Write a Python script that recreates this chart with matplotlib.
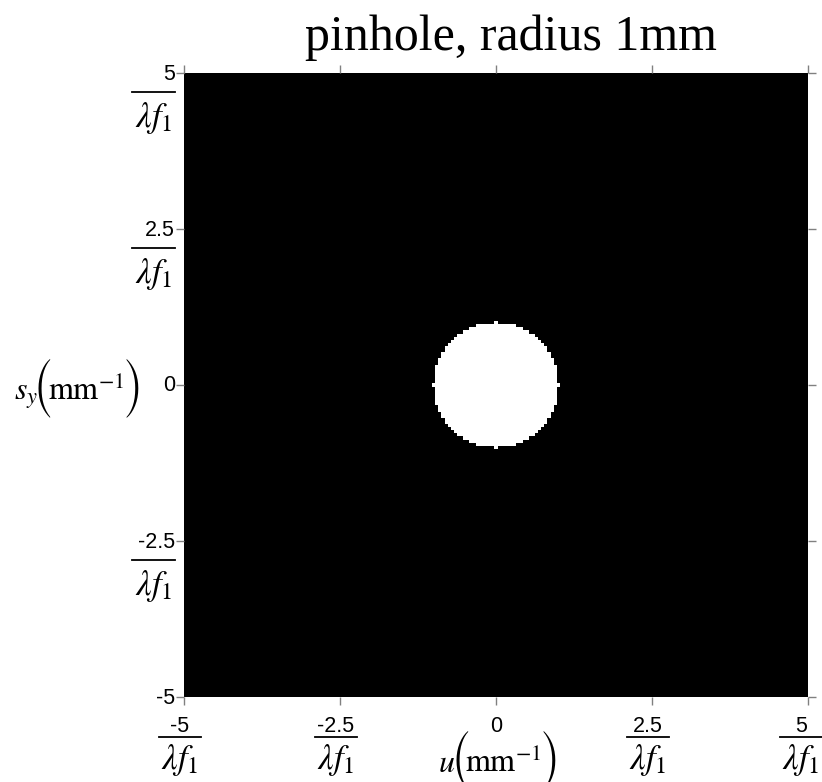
import numpy as np
import matplotlib
matplotlib.use('Agg')
import matplotlib.pyplot as plt
from matplotlib.lines import Line2D

plt.rcParams['mathtext.fontset'] = 'stix'
plt.rcParams['font.family'] = 'Liberation Serif'

# pinhole aperture, sampled on a square grid (mm^-1 units on both axes)
radius = 1.0
half_width = 5.0
step = 0.05
tick_vals = [-5, -2.5, 0, 2.5, 5]
tick_text = ['-5', '-2.5', '0', '2.5', '5']
title = 'pinhole, radius 1mm'

n = int(round(half_width / step))
idx = np.arange(-n, n + 1)
ii, jj = np.meshgrid(idx, idx)
r_cells = int(round(radius / step))
aperture = (ii**2 + jj**2 <= r_cells**2).astype(float)

W, H = 822, 782
fig = plt.figure(figsize=(W / 100, H / 100), dpi=100)
renderer = fig.canvas.get_renderer()

# axes box in pixels (left, top, right, bottom)
L, T, R, B = 184, 73, 808, 697
ax = fig.add_axes([L / W, (H - B) / H, (R - L) / W, (B - T) / H])
ax.imshow(aperture, cmap='gray', vmin=0, vmax=1, origin='lower',
          interpolation='nearest', aspect='auto',
          extent=[-half_width - step / 2, half_width + step / 2,
                  -half_width - step / 2, half_width + step / 2])
ax.set_xlim(-half_width, half_width)
ax.set_ylim(-half_width, half_width)
ax.set_xticks(tick_vals)
ax.set_yticks(tick_vals)
ax.tick_params(direction='out', length=6, width=1, color='#808080',
               top=True, right=True, labelbottom=False, labelleft=False)
for s in ax.spines.values():
    s.set_visible(False)


def fxy(px, py):
    return px / W, (H - py) / H


def rule(x0, x1, y):
    a, b = fxy(x0, y)
    c, d = fxy(x1, y)
    fig.add_artist(Line2D([a, c], [b, d], color='black', lw=1.3,
                          transform=fig.transFigure))


def text_row(x, base, pieces):
    # lay pieces left to right on a common baseline (pixel coords, y down)
    for s, fam, dy, kern in pieces:
        x += kern
        kw = {'family': fam} if fam else {}
        t = fig.text(*fxy(x, base + dy), s, ha='left', va='baseline',
                     fontsize=23, **kw)
        x += t.get_window_extent(renderer).width


denom = r'$\lambda f_1$'
num_kw = dict(family='Liberation Sans', fontsize=15.5)
den_size = 25

# y tick labels: value over lambda f_1
for v, t in zip(tick_vals, tick_text):
    ty = B - (v + half_width) / (2 * half_width) * (B - T)
    fig.text(*fxy(175, ty + 1), t, ha='right', va='center', **num_kw)
    if v not in (0, -5):
        rule(132, 175, ty + 19)
        fig.text(*fxy(154, ty + 45), denom, ha='center', va='center',
                 fontsize=den_size)

# x tick labels
for v, t in zip(tick_vals, tick_text):
    tx = L + (v + half_width) / (2 * half_width) * (R - L)
    if v == 0:
        fig.text(*fxy(tx, 726), t, ha='center', va='center', **num_kw)
        continue
    cx = min(tx - 4, 801)
    fig.text(*fxy(cx, 726), t, ha='center', va='center', **num_kw)
    rule(cx - 21, cx + 21, 737)
    fig.text(*fxy(cx, 760), denom, ha='center', va='center',
             fontsize=den_size)


def unit_label(sym):
    # symbol, then the unit wrapped in tall thin parentheses
    paren = 'STIXSizeTwoSym'
    return [(sym, None, 0, 0), ('(', paren, 9, -4),
            (r'$\mathrm{mm}^{-1}$', None, 0, -5), (')', paren, 9, -2)]


text_row(438, 772, unit_label(r'$u$'))
text_row(14, 400, unit_label(r'$s_y$'))

fig.text(*fxy(511, 38), title, ha='center', va='center', fontsize=36)

fig.savefig('out.png', dpi=100)
